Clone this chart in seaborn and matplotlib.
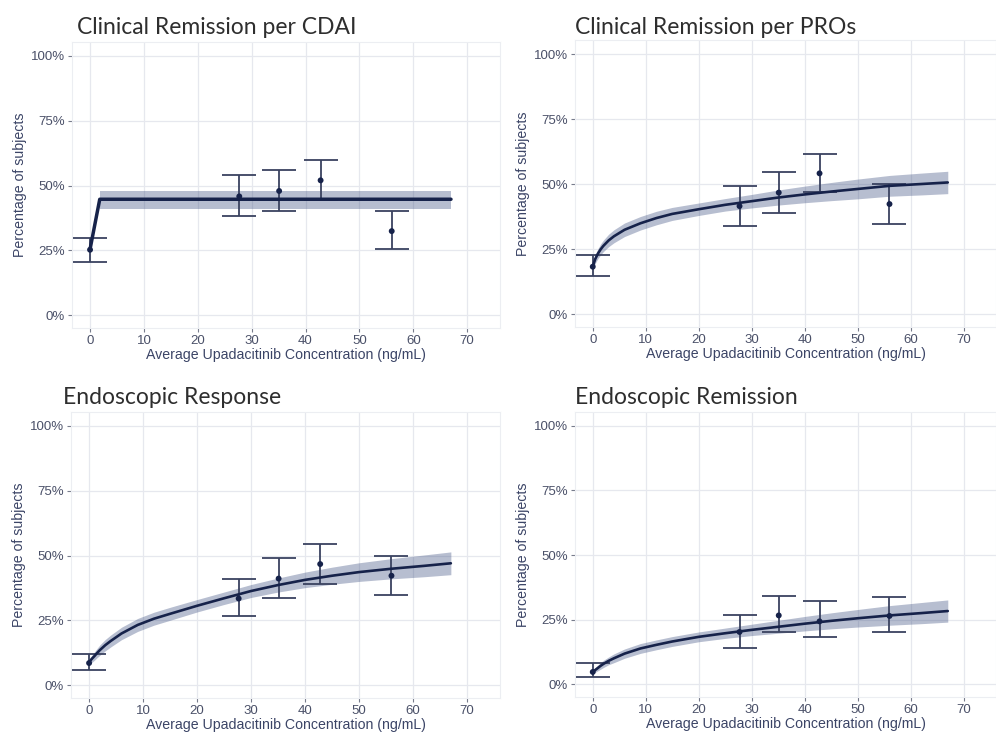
import numpy as np
import pandas as pd
import matplotlib
matplotlib.use("Agg")
import matplotlib.pyplot as plt
import seaborn as sns
from matplotlib.ticker import FuncFormatter

sns.set_theme(style="whitegrid")
plt.rcParams['font.family'] = ['Liberation Sans', 'DejaVu Sans']

# ---------------- data ----------------
titles = ["Clinical Remission per CDAI", "Clinical Remission per PROs",
          "Endoscopic Response", "Endoscopic Remission"]

x_obs = [0, 27.7, 35.1, 42.8, 56.0]

obs_cdai = [25.2, 45.8, 47.9, 52.0, 32.4]
obs_cdai_lo = [20.6, 38.2, 40.0, 44.5, 25.6]
obs_cdai_hi = [29.9, 54.2, 55.9, 59.8, 40.2]

obs_pro = [18.2, 41.5, 46.7, 54.1, 42.3]
obs_pro_lo = [14.5, 33.7, 39.0, 46.8, 34.7]
obs_pro_hi = [22.6, 49.4, 54.6, 61.7, 49.9]

obs_eresp = [8.5, 33.4, 41.1, 46.7, 42.2]
obs_eresp_lo = [5.9, 26.5, 33.7, 38.9, 34.6]
obs_eresp_hi = [12.0, 41.1, 49.0, 54.6, 49.9]

obs_erem = [4.7, 20.2, 26.6, 24.3, 26.4]
obs_erem_lo = [2.8, 14.0, 20.2, 18.4, 20.2]
obs_erem_hi = [8.0, 26.9, 34.1, 32.2, 33.7]

# model prediction
x_cdai_fit = [0, 1.8, 67]
fit_cdai = [25.4, 44.7, 44.7]
x_cdai_band = [1.8, 67]
band_cdai_lo = [40.9, 40.9]
band_cdai_hi = [48.0, 48.0]

x_fit = [0, 0.5, 1, 1.5, 2, 3, 4, 6, 9, 12, 15, 20, 25, 30, 35, 40, 45, 50, 56, 62, 67]

fit_pro = [18.3, 21.3, 23.3, 24.9, 26.2, 28.3, 29.9, 32.4, 34.9, 36.9, 38.5, 40.3, 42.0, 43.4, 44.8, 46.0, 47.1, 48.1, 49.3, 50.0, 50.6]
fit_pro_lo = [16.9, 19.6, 21.4, 22.8, 24.0, 25.9, 27.4, 29.8, 32.3, 34.3, 36.0, 37.9, 39.6, 40.8, 41.9, 42.8, 43.6, 44.3, 45.3, 45.8, 46.3]
fit_pro_hi = [19.7, 23.0, 25.2, 27.0, 28.4, 30.7, 32.4, 35.0, 37.5, 39.5, 41.0, 42.7, 44.4, 46.0, 47.7, 49.2, 50.6, 51.9, 53.3, 54.2, 54.9]

fit_eresp = [8.8, 10.1, 11.2, 12.4, 13.5, 15.4, 17.0, 19.9, 23.2, 25.6, 27.5, 30.6, 33.5, 36.3, 38.6, 40.6, 42.2, 43.6, 44.9, 46.0, 47.0]
fit_eresp_lo = [7.7, 8.7, 9.6, 10.6, 11.5, 13.2, 14.7, 17.5, 20.7, 23.1, 25.0, 28.2, 31.1, 33.8, 35.9, 37.6, 38.9, 40.0, 41.0, 41.8, 42.6]
fit_eresp_hi = [9.9, 11.5, 12.8, 14.2, 15.5, 17.6, 19.3, 22.3, 25.7, 28.1, 30.0, 33.0, 35.9, 38.8, 41.3, 43.6, 45.5, 47.2, 48.8, 50.2, 51.4]

fit_erem = [4.7, 5.5, 6.3, 7.1, 7.8, 9.0, 10.0, 11.8, 13.8, 15.2, 16.5, 18.3, 19.7, 21.0, 22.2, 23.4, 24.5, 25.5, 26.6, 27.5, 28.3]
fit_erem_lo = [3.9, 4.6, 5.2, 5.8, 6.4, 7.5, 8.3, 10.0, 11.9, 13.3, 14.6, 16.4, 17.7, 18.8, 19.7, 20.6, 21.4, 22.1, 22.8, 23.4, 24.0]
fit_erem_hi = [5.5, 6.4, 7.4, 8.4, 9.2, 10.5, 11.7, 13.6, 15.7, 17.1, 18.4, 20.2, 21.7, 23.2, 24.7, 26.2, 27.6, 28.9, 30.4, 31.6, 32.6]

x_ticks = [0, 10, 20, 30, 40, 50, 60, 70]
y_ticks = [0, 25, 50, 75, 100]
x_label = "Average Upadacitinib Concentration (ng/mL)"
y_label = "Percentage of subjects"

panels = [
    dict(xf=x_cdai_fit, f=fit_cdai, xb=x_cdai_band, lo=band_cdai_lo, hi=band_cdai_hi,
         o=obs_cdai, olo=obs_cdai_lo, ohi=obs_cdai_hi, lw=2.5),
    dict(xf=x_fit, f=fit_pro, xb=x_fit, lo=fit_pro_lo, hi=fit_pro_hi,
         o=obs_pro, olo=obs_pro_lo, ohi=obs_pro_hi, lw=1.9),
    dict(xf=x_fit, f=fit_eresp, xb=x_fit, lo=fit_eresp_lo, hi=fit_eresp_hi,
         o=obs_eresp, olo=obs_eresp_lo, ohi=obs_eresp_hi, lw=1.9),
    dict(xf=x_fit, f=fit_erem, xb=x_fit, lo=fit_erem_lo, hi=fit_erem_hi,
         o=obs_erem, olo=obs_erem_lo, ohi=obs_erem_hi, lw=1.9),
]

# ---------------- layout ----------------
fig = plt.figure(figsize=(9.96, 7.35), dpi=100)
fig.patch.set_facecolor("white")
W, H = 996, 735
boxes = [(72, 42, 500, 328), (575, 40, 996, 327), (71, 412, 500, 698), (575, 412, 996, 697)]
title_pos = [(77, 27), (575, 27), (63, 397), (575, 397)]

line_col = "#16224a"
band_col = "#3d4f80"
err_col = "#3a4260"
tick_col = "#4a5068"
lab_col = "#3b4466"

for i, p in enumerate(panels):
    l, t, r, b = boxes[i]
    ax = fig.add_axes([l / W, 1 - b / H, (r - l) / W, (b - t) / H])
    ax.set_facecolor("white")
    ax.fill_between(p["xb"], p["lo"], p["hi"], color=band_col, alpha=0.37, lw=0, zorder=2)
    yerr = [np.array(p["o"]) - np.array(p["olo"]), np.array(p["ohi"]) - np.array(p["o"])]
    ax.errorbar(x_obs, p["o"], yerr=yerr, fmt="none", ecolor=err_col, elinewidth=1.3,
                capsize=12.5, capthick=1.3, zorder=3)
    df_fit = pd.DataFrame({"x": p["xf"], "y": p["f"]})
    sns.lineplot(data=df_fit, x="x", y="y", ax=ax, color=line_col, lw=p["lw"], zorder=4,
                 estimator=None, sort=False)
    df_obs = pd.DataFrame({"x": x_obs, "y": p["o"]})
    sns.scatterplot(data=df_obs, x="x", y="y", ax=ax, color=line_col, s=18, edgecolor="none", zorder=5)

    ax.set_xlim(-3.35, 76.1)
    ax.set_ylim(-5.0, 105.4)
    ax.set_xticks(x_ticks)
    ax.set_yticks(y_ticks)
    ax.yaxis.set_major_formatter(FuncFormatter(lambda v, pos: f"{int(v)}%"))
    ax.grid(True, color="#e6e8ee", lw=0.9)
    for s in ax.spines.values():
        s.set_visible(True)
        s.set_color("#eceef2")
        s.set_linewidth(0.8)
    ax.tick_params(axis="both", which="major", length=3, width=0.8, color="#777c8c",
                   labelsize=9.5, labelcolor=tick_col, pad=2, direction="out",
                   left=True, bottom=True)
    ax.set_xlabel(x_label, fontsize=10.2, color=lab_col, labelpad=1)
    ax.set_ylabel(y_label, fontsize=10.2, color=lab_col, labelpad=3)

    tx, ty = title_pos[i]
    fig.text(tx / W, 1 - ty / H, titles[i], fontsize=16.5, color="#2e2e2e",
             family=["Lato", "DejaVu Sans"], ha="left", va="center")

fig.savefig("out.png", dpi=100, facecolor="white")
